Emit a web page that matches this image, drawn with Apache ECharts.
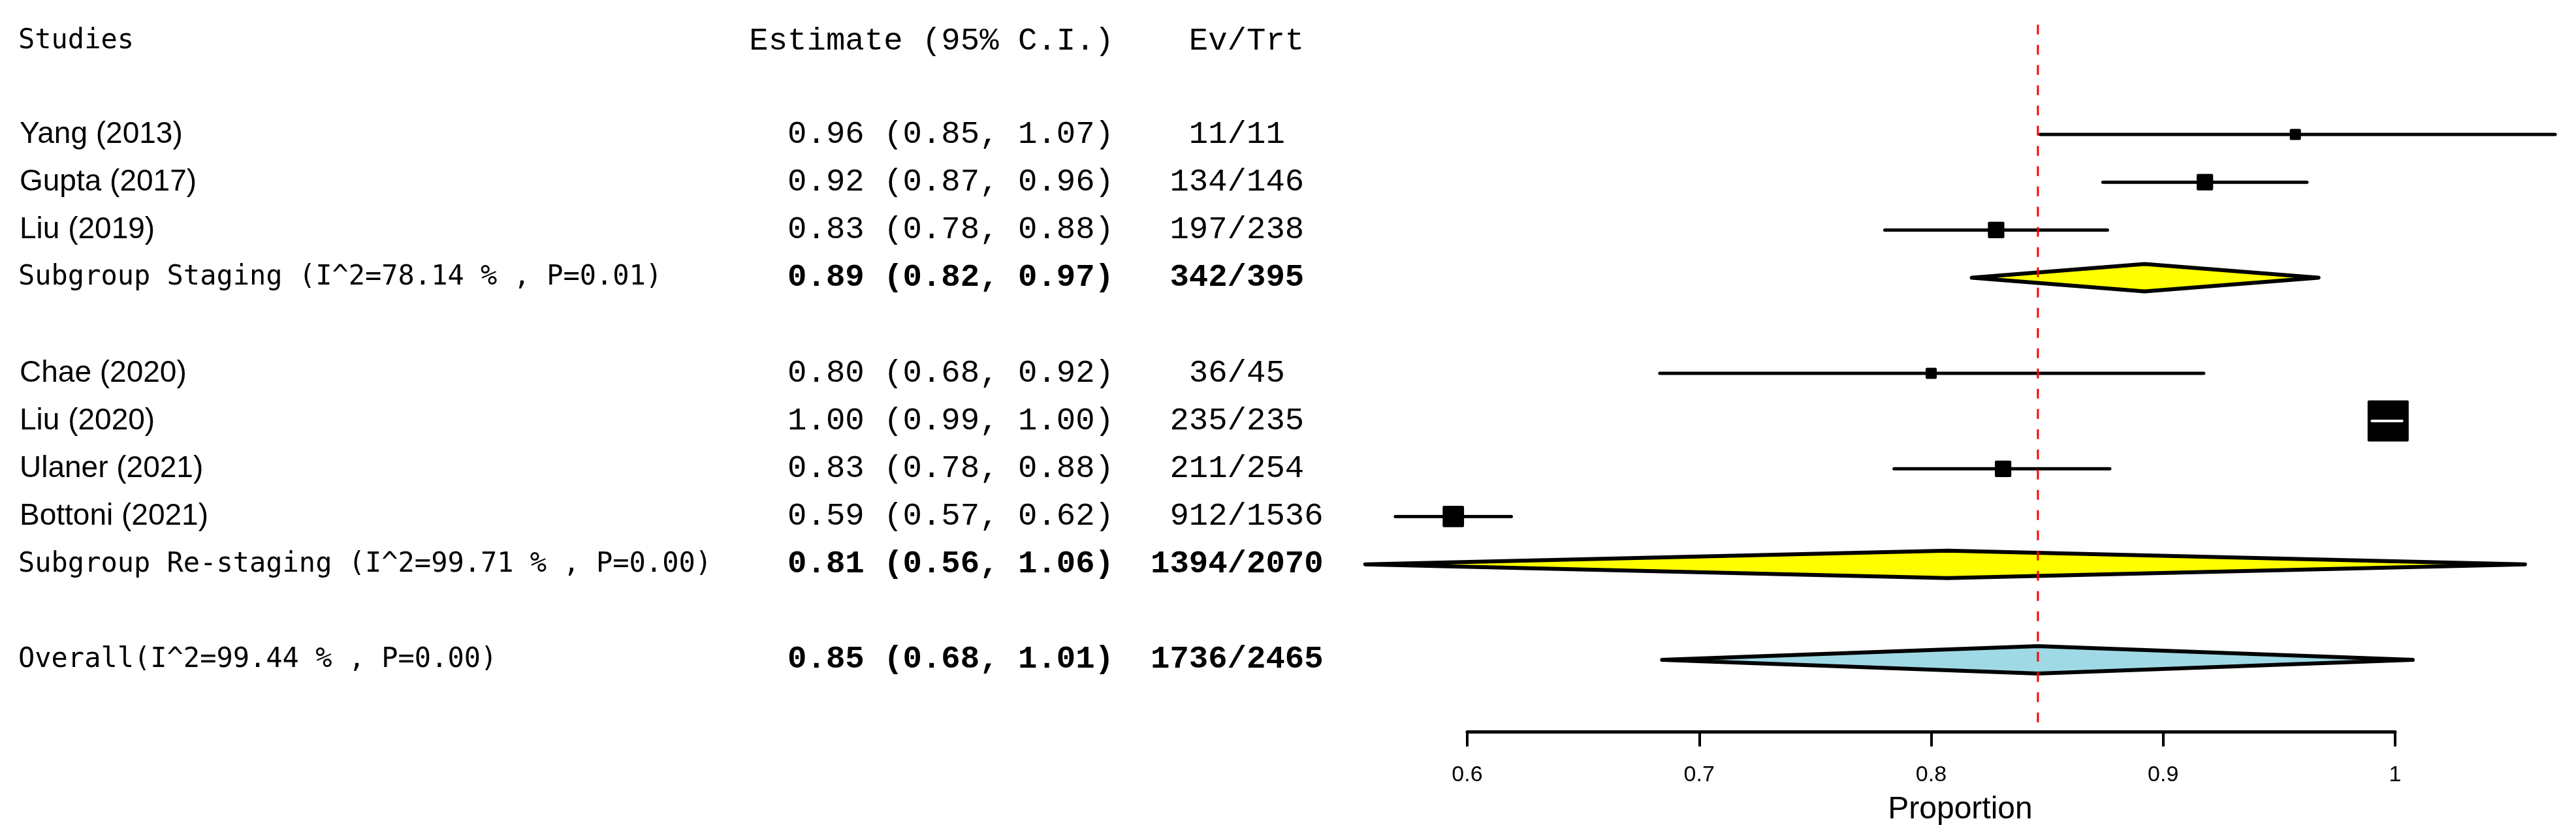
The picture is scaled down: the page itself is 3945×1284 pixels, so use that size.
<!DOCTYPE html>
<html>
<head>
<meta charset="utf-8">
<title>Forest plot - proportion</title>
<script src="https://cdn.jsdelivr.net/npm/echarts@6/dist/echarts.min.js"></script>
<style>
html, body { margin: 0; padding: 0; background: #fff; }
#chart { width: 3945px; height: 1284px; }
</style>
</head>
<body>
<div id="chart"></div>
<script>
// single studies, one row each (row 0 = first study line)
const studyNames = ['Yang (2013)', 'Gupta (2017)', 'Liu (2019)', 'Chae (2020)', 'Liu (2020)', 'Ulaner (2021)', 'Bottoni (2021)']
const studyRows = [0, 1, 2, 5, 6, 7, 8]
const studyEst = [0.957, 0.918, 0.828, 0.800, 0.997, 0.831, 0.594]
const studyLow = [0.847, 0.874, 0.780, 0.683, 0.990, 0.784, 0.569]
const studyHigh = [1.069, 0.962, 0.876, 0.9175, 1.003, 0.877, 0.619]
const studyEvents = [11, 134, 197, 36, 235, 211, 912]
const studyTotal = [11, 146, 238, 45, 235, 254, 1536]
// relative box size (weight)
const studyWeight = [0.27, 0.40, 0.40, 0.27, 1.00, 0.40, 0.52]

// pooled estimates (two subgroups + overall)
const poolNames = ['Subgroup Staging ', 'Subgroup Re-staging ', 'Overall']
const poolRows = [3, 9, 11]
const poolEst = [0.892, 0.807, 0.846]
const poolLow = [0.8175, 0.556, 0.684]
const poolHigh = [0.967, 1.056, 1.0076]
const poolI2 = ['78.14', '99.71', '99.44']
const poolP = ['0.01', '0.00', '0.00']
const poolEvents = [342, 1394, 1736]
const poolTotal = [395, 2070, 2465]

// x axis ticks
const tickMin = 0.6
const tickMax = 1.0
const tickStep = 0.1

const headerRow = -1.95
const rowMin = -2.3
const rowMax = 12.5

const chart = echarts.init(document.getElementById('chart'))

const studyData = studyNames.map((n, i) => [studyLow[i], studyHigh[i], studyEst[i], studyRows[i], studyWeight[i]])
const poolData = poolNames.map((n, i) => [poolLow[i], poolHigh[i], poolEst[i], poolRows[i], i])
const overallEst = poolEst[poolEst.length - 1]

const gridTop = 37.7
const gridBottom = 163.2

chart.setOption({
    animation: false,
    backgroundColor: '#ffffff',
    grid: [
        // plotting area (wider than the drawn axis)
        { left: 2069.4, right: 10.6, top: gridTop, bottom: gridBottom },
        // the visible axis, 0.6 .. 1
        { left: 2247, right: 277, top: gridTop, bottom: gridBottom }
    ],
    xAxis: [
        { gridIndex: 0, type: 'value', min: 0.55, max: 1.075, show: false },
        {
            gridIndex: 1,
            type: 'value',
            position: 'bottom',
            min: tickMin,
            max: tickMax,
            interval: tickStep,
            axisLine: { show: true, onZero: false, lineStyle: { color: '#000', width: 5 } },
            axisTick: { show: true, length: 23, lineStyle: { color: '#000', width: 4 } },
            axisLabel: {
                color: '#000',
                fontSize: 34,
                fontFamily: 'Liberation Sans',
                margin: 50
            },
            splitLine: { show: false }
        }
    ],
    yAxis: [
        { gridIndex: 0, type: 'value', inverse: true, min: rowMin, max: rowMax, show: false },
        { gridIndex: 1, type: 'value', inverse: true, min: rowMin, max: rowMax, show: false }
    ],
    series: [
        {
            type: 'custom',
            xAxisIndex: 0,
            yAxisIndex: 0,
            clip: false,
            encode: { x: [0, 1, 2], y: 3 },
            data: studyData,
            renderItem: function (params, api) {
                const row = api.value(3)
                const pLo = api.coord([api.value(0), row])
                const pHi = api.coord([api.value(1), row])
                const pEst = api.coord([api.value(2), row])
                const s = api.value(4) * 63
                const children = [
                    {
                        type: 'line',
                        shape: { x1: pLo[0], y1: pLo[1], x2: pHi[0], y2: pHi[1] },
                        style: { stroke: '#000', lineWidth: 5, lineCap: 'round' }
                    },
                    {
                        type: 'rect',
                        shape: { x: pEst[0] - s / 2, y: pEst[1] - s / 2, width: s, height: s, r: 2 },
                        style: { fill: '#000' }
                    }
                ]
                // CI narrower than the box: draw it white so it stays visible
                if (pLo[0] >= pEst[0] - s / 2 && pHi[0] <= pEst[0] + s / 2) {
                    children.push({
                        type: 'line',
                        shape: { x1: pLo[0], y1: pLo[1], x2: pHi[0], y2: pHi[1] },
                        style: { stroke: '#fff', lineWidth: 4, lineCap: 'round' }
                    })
                }
                return { type: 'group', children: children }
            }
        },
        {
            type: 'custom',
            xAxisIndex: 0,
            yAxisIndex: 0,
            clip: false,
            encode: { x: [0, 1, 2], y: 3 },
            data: poolData,
            renderItem: function (params, api) {
                const row = api.value(3)
                const pLo = api.coord([api.value(0), row])
                const pHi = api.coord([api.value(1), row])
                const pEst = api.coord([api.value(2), row])
                const h = 21
                const isOverall = api.value(4) === poolNames.length - 1
                return {
                    type: 'polygon',
                    shape: {
                        points: [
                            [pLo[0], pLo[1]],
                            [pEst[0], pEst[1] - h],
                            [pHi[0], pHi[1]],
                            [pEst[0], pEst[1] + h]
                        ]
                    },
                    style: {
                        fill: isOverall ? '#a0d9e6' : '#ffff00',
                        stroke: '#000',
                        lineWidth: 6,
                        lineJoin: 'round'
                    }
                }
            }
        },
        {
            // reference line at the overall estimate
            type: 'line',
            xAxisIndex: 0,
            yAxisIndex: 0,
            z: 10,
            silent: true,
            symbol: 'none',
            data: [[overallEst, rowMin], [overallEst, rowMax]],
            lineStyle: { color: '#ff0000', type: [15, 16], width: 3 }
        }
    ]
})

// text columns on the left, placed on the same row scale
function rowY(row) {
    return chart.convertToPixel({ gridIndex: 0 }, [0.6, row])[1]
}
function txt(x, row, text, font, align) {
    return {
        type: 'text',
        silent: true,
        x: x,
        y: rowY(row),
        style: { text: text, font: font, fill: '#000', align: align, verticalAlign: 'middle' }
    }
}
function evTrt(a, b) {
    return String(a).padStart(4, ' ') + '/' + String(b).padEnd(4, ' ')
}
function ci(e, l, h) {
    return e.toFixed(2) + ' (' + l.toFixed(2) + ', ' + h.toFixed(2) + ')'
}

const fName = "46px 'Liberation Sans'"
const fOdd = "42px 'DejaVu Sans Mono'"
const fMono = "49px 'Liberation Mono'"
const fMonoB = "bold 49px 'Liberation Mono'"
const estRight = 1706
const evLeft = 1762

const texts = [
    txt(28, headerRow, 'Studies', fOdd, 'left'),
    txt(estRight, headerRow, 'Estimate (95% C.I.)', fMono, 'right'),
    txt(evLeft, headerRow, evTrt('Ev', 'Trt'), fMono, 'left')
]
studyNames.forEach((n, i) => {
    texts.push(txt(30, studyRows[i], n, fName, 'left'))
    texts.push(txt(estRight, studyRows[i], ci(studyEst[i], studyLow[i], studyHigh[i]), fMono, 'right'))
    texts.push(txt(evLeft, studyRows[i], evTrt(studyEvents[i], studyTotal[i]), fMono, 'left'))
})
poolNames.forEach((n, i) => {
    texts.push(txt(28, poolRows[i], n + '(I^2=' + poolI2[i] + ' % , P=' + poolP[i] + ')', fOdd, 'left'))
    texts.push(txt(estRight, poolRows[i], ci(poolEst[i], poolLow[i], poolHigh[i]), fMonoB, 'right'))
    texts.push(txt(evLeft, poolRows[i], evTrt(poolEvents[i], poolTotal[i]), fMonoB, 'left'))
})
// axis title
texts.push({
    type: 'text',
    silent: true,
    x: 3002,
    y: 1241,
    style: { text: 'Proportion', font: "48px 'Liberation Sans'", fill: '#000', align: 'center', verticalAlign: 'middle' }
})

chart.setOption({ graphic: texts })
</script>
</body>
</html>
